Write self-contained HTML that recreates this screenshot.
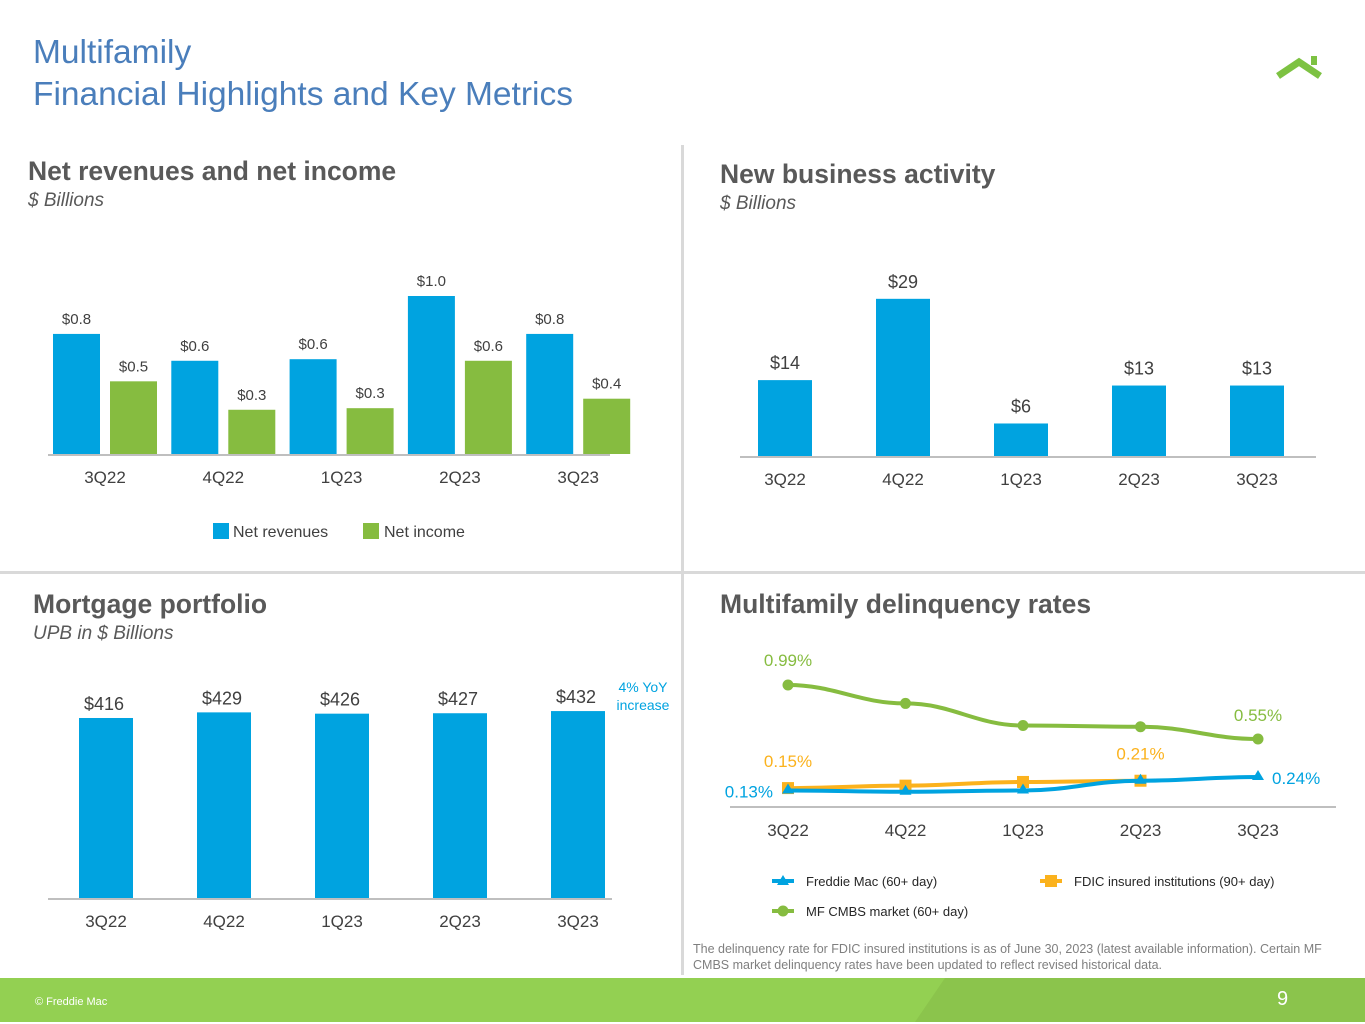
<!DOCTYPE html>
<html><head><meta charset="utf-8">
<style>
body{margin:0;width:1365px;height:1024px;overflow:hidden;background:#fff;font-family:"Liberation Sans",Arial,sans-serif;position:relative}
.t{position:absolute;white-space:nowrap}
svg{position:absolute;left:0;top:0}
</style></head>
<body>
<div class="t" style="left:33px;top:32px;font-size:33.5px;line-height:42px;color:#4a7ebb">Multifamily<br>Financial Highlights and Key Metrics</div>
<div class="t" style="left:28px;top:156px;font-size:26.5px;font-weight:bold;color:#595959">Net revenues and net income</div>
<div class="t" style="left:28px;top:190px;font-size:19px;font-style:italic;color:#595959">$ Billions</div>
<div class="t" style="left:720px;top:159px;font-size:26.5px;font-weight:bold;color:#595959">New business activity</div>
<div class="t" style="left:720px;top:193px;font-size:19px;font-style:italic;color:#595959">$ Billions</div>
<div class="t" style="left:33px;top:589px;font-size:26.5px;font-weight:bold;color:#595959">Mortgage portfolio</div>
<div class="t" style="left:33px;top:623px;font-size:19px;font-style:italic;color:#595959">UPB in $ Billions</div>
<div class="t" style="left:720px;top:589px;font-size:26.5px;font-weight:bold;color:#595959">Multifamily delinquency rates</div>
<div class="t" style="left:612px;top:678px;font-size:14px;line-height:18px;color:#00a3e0;text-align:center;width:62px">4% YoY<br>increase</div>
<div class="t" style="left:693px;top:941px;font-size:12.5px;line-height:16px;color:#7f7f7f">The delinquency rate for FDIC insured institutions is as of June 30, 2023 (latest available information). Certain MF<br>CMBS market delinquency rates have been updated to reflect revised historical data.</div>

<svg id="s" width="1365" height="1024" xmlns="http://www.w3.org/2000/svg" font-family="Liberation Sans, Arial, sans-serif">
<g><polyline points="1278,76 1299,62 1320,76" fill="none" stroke="#7dc242" stroke-width="7"/><rect x="1311" y="56" width="6" height="9" fill="#7dc242"/></g>
<rect x="681" y="145" width="3" height="830" fill="#d9d9d9"/>
<rect x="0" y="571" width="1365" height="3" fill="#d9d9d9"/>
<g>
<rect x="0" y="978" width="1365" height="44" fill="#93d052"/>
<path d="M945 978 L1365 978 L1365 1022 L915 1022 Z" fill="#8bc44c"/>
<text x="35" y="1005" font-size="11" fill="#fff">© Freddie Mac</text>
<text x="1277" y="1005" font-size="20" fill="#fff">9</text>
</g>
<g id="c1"></g><g id="c2"></g><g id="c3"></g><g id="c4"></g>
</svg>
<script>
const NS="http://www.w3.org/2000/svg";
const quarters=["3Q22","4Q22","1Q23","2Q23","3Q23"];
const netRevenues=[0.76,0.59,0.60,1.0,0.76];
const netRevenueLabels=["$0.8","$0.6","$0.6","$1.0","$0.8"];
const netIncome=[0.46,0.28,0.29,0.59,0.35];
const netIncomeLabels=["$0.5","$0.3","$0.3","$0.6","$0.4"];
const newBusiness=[14,29,6,13,13];
const newBusinessLabels=["$14","$29","$6","$13","$13"];
const portfolio=[416,429,426,427,432];
const portfolioLabels=["$416","$429","$426","$427","$432"];
const freddieRates=[0.13,0.12,0.13,0.21,0.24];
const fdicRates=[0.15,0.17,0.20,0.21];
const cmbsRates=[0.99,0.84,0.66,0.65,0.55];
const BLUE="#00a3e0",GREEN="#86bc40",ORANGE="#fbb21d";
function el(p,tag,a,txt){const e=document.createElementNS(NS,tag);for(const k in a)e.setAttribute(k,a[k]);if(txt!==undefined)e.textContent=txt;p.appendChild(e);return e;}
function axis(g,x1,x2,y){const l=el(g,"line",{x1:x1,x2:x2,y1:y,y2:y,stroke:"#bfbfbf","stroke-width":2});

}
function xlab(g,x,y,t){const e=el(g,"text",{x:x,y:y,"text-anchor":"middle","font-size":17,fill:"#404040"},t);

}
// chart 1
(function(){const g=document.getElementById("c1");const base=454,sc=158,x0=105,step=118.3;
axis(g,48,610,base+1);
quarters.forEach((q,i)=>{const cx=x0+i*step;
const hr=netRevenues[i]*sc;const r=el(g,"rect",{x:cx-52,y:base-hr,width:47,height:hr,fill:BLUE});


const t1=el(g,"text",{x:cx-28.5,y:base-hr-10,"text-anchor":"middle","font-size":15,fill:"#404040"},netRevenueLabels[i]);


const hi=netIncome[i]*sc;const b=el(g,"rect",{x:cx+5,y:base-hi,width:47,height:hi,fill:GREEN});


const t2=el(g,"text",{x:cx+28.5,y:base-hi-10,"text-anchor":"middle","font-size":15,fill:"#404040"},netIncomeLabels[i]);


xlab(g,cx,483,q);});
const l1=el(g,"g",{});
el(l1,"rect",{x:213,y:523,width:16,height:16,fill:BLUE});el(l1,"text",{x:233,y:537,"font-size":16,fill:"#404040"},"Net revenues");
const l2=el(g,"g",{});
el(l2,"rect",{x:363,y:523,width:16,height:16,fill:GREEN});el(l2,"text",{x:384,y:537,"font-size":16,fill:"#404040"},"Net income");
})();
// chart 2
(function(){const g=document.getElementById("c2");const base=456,sc=5.42,x0=785,step=118;
axis(g,740,1316,base+1);
quarters.forEach((q,i)=>{const cx=x0+i*step;const h=newBusiness[i]*sc;
const r=el(g,"rect",{x:cx-27,y:base-h,width:54,height:h,fill:BLUE});


const t=el(g,"text",{x:cx,y:base-h-11,"text-anchor":"middle","font-size":18,fill:"#404040"},newBusinessLabels[i]);


xlab(g,cx,485,q);});})();
// chart 3
(function(){const g=document.getElementById("c3");const base=898,sc=0.4327,x0=106,step=118;
axis(g,48,612,base+1);
quarters.forEach((q,i)=>{const cx=x0+i*step;const h=portfolio[i]*sc;
const r=el(g,"rect",{x:cx-27,y:base-h,width:54,height:h,fill:BLUE});


const t=el(g,"text",{x:cx-2,y:base-h-8,"text-anchor":"middle","font-size":18,fill:"#404040"},portfolioLabels[i]);


xlab(g,cx,927,q);});})();
// chart 4
(function(){const g=document.getElementById("c4");const base=806.5,sc=122.7,x0=788,step=117.5;
const X=i=>x0+i*step,Y=v=>base-v*sc;
axis(g,730,1336,807);
function path(vals){let d="M"+X(0)+" "+Y(vals[0]);for(let i=1;i<vals.length;i++){const px=X(i-1),py=Y(vals[i-1]),cx=X(i),cy=Y(vals[i]);d+=" C"+(px+step*0.4)+" "+py+" "+(cx-step*0.4)+" "+cy+" "+cx+" "+cy;}return d;}
const pc=el(g,"path",{d:path(cmbsRates),fill:"none",stroke:GREEN,"stroke-width":4});


cmbsRates.forEach((v,i)=>{const c=el(g,"circle",{cx:X(i),cy:Y(v),r:5.5,fill:GREEN});

});
const pf=el(g,"path",{d:path(fdicRates),fill:"none",stroke:ORANGE,"stroke-width":4});


fdicRates.forEach((v,i)=>{const c=el(g,"rect",{x:X(i)-6,y:Y(v)-6,width:12,height:12,fill:ORANGE});

});
const pm=el(g,"path",{d:path(freddieRates),fill:"none",stroke:BLUE,"stroke-width":4});


freddieRates.forEach((v,i)=>{const c=el(g,"path",{d:"M"+X(i)+" "+(Y(v)-7)+" l6 10 l-12 0 Z",fill:BLUE});

});
function lab(x,y,t,c,a){const e=el(g,"text",{x:x,y:y,"text-anchor":a||"middle","font-size":17,fill:c},t);

}
lab(X(0),Y(cmbsRates[0])-19,"0.99%",GREEN);
lab(X(4),Y(cmbsRates[4])-18,"0.55%",GREEN);
lab(X(0),Y(fdicRates[0])-21,"0.15%",ORANGE);
lab(X(3),Y(fdicRates[3])-21,"0.21%",ORANGE);
lab(X(0)-15,Y(freddieRates[0])+7,"0.13%",BLUE,"end");
lab(X(4)+14,Y(freddieRates[4])+7,"0.24%",BLUE,"start");
quarters.forEach((q,i)=>xlab(g,X(i),836,q));
function leg(x,y,name,c,shape,t){const lg=el(g,"g",{});


el(lg,"line",{x1:x,x2:x+22,y1:y,y2:y,stroke:c,"stroke-width":4});
if(shape==="tri")el(lg,"path",{d:"M"+(x+11)+" "+(y-6)+" l6 10 l-12 0 Z",fill:c});
if(shape==="sq")el(lg,"rect",{x:x+5,y:y-6,width:12,height:12,fill:c});
if(shape==="c")el(lg,"circle",{cx:x+11,cy:y,r:5.5,fill:c});
el(lg,"text",{x:x+34,y:y+5,"font-size":13,fill:"#262626"},t);}
leg(772,881,"legend-freddie-mac",BLUE,"tri","Freddie Mac (60+ day)");
leg(1040,881,"legend-fdic",ORANGE,"sq","FDIC insured institutions (90+ day)");
leg(772,911,"legend-mf-cmbs",GREEN,"c","MF CMBS market (60+ day)");
})();
</script>
</body></html>
